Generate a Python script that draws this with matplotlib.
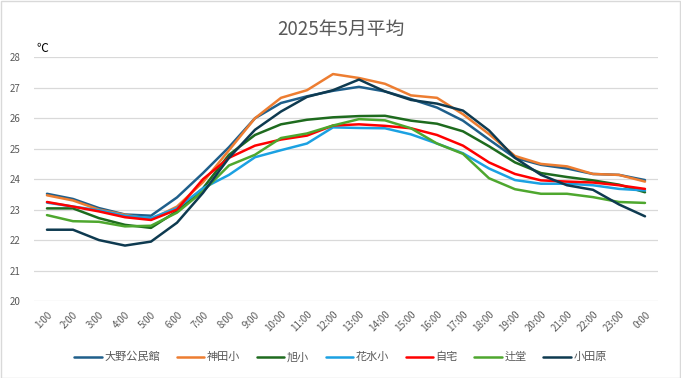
import matplotlib
matplotlib.use("Agg")
import matplotlib.pyplot as plt
from matplotlib.patches import Rectangle

plt.rcParams['font.family'] = ['Noto Sans CJK JP', 'DejaVu Sans']

hours = ["1:00", "2:00", "3:00", "4:00", "5:00", "6:00", "7:00", "8:00", "9:00", "10:00",
         "11:00", "12:00", "13:00", "14:00", "15:00", "16:00", "17:00", "18:00", "19:00",
         "20:00", "21:00", "22:00", "23:00", "0:00"]

series_names = ["大野公民館", "神田小", "旭小", "花水小", "自宅", "辻堂", "小田原"]

ono = [23.52, 23.35, 23.05, 22.84, 22.8, 23.4, 24.2, 25.05, 26.0, 26.5, 26.72, 26.9,
       27.03, 26.88, 26.63, 26.35, 25.92, 25.3, 24.7, 24.47, 24.35, 24.17, 24.14, 23.97]
kanda = [23.47, 23.3, 23.0, 22.83, 22.68, 23.1, 23.9, 24.95, 26.0, 26.67, 26.92, 27.45,
         27.32, 27.13, 26.75, 26.67, 26.13, 25.48, 24.76, 24.5, 24.42, 24.17, 24.14, 23.92]
asahi = [23.04, 23.04, 22.72, 22.5, 22.4, 22.95, 23.7, 24.8, 25.45, 25.8, 25.95, 26.03,
         26.07, 26.08, 25.92, 25.82, 25.57, 25.08, 24.55, 24.2, 24.07, 23.96, 23.82, 23.57]
hanamizu = [23.23, 23.1, 22.98, 22.8, 22.72, 23.05, 23.7, 24.14, 24.72, 24.95, 25.17, 25.7,
            25.68, 25.67, 25.47, 25.17, 24.85, 24.35, 23.97, 23.85, 23.85, 23.8, 23.68, 23.63]
jitaku = [23.25, 23.1, 22.94, 22.75, 22.66, 23.0, 24.0, 24.7, 25.1, 25.3, 25.43, 25.76,
          25.8, 25.75, 25.67, 25.45, 25.1, 24.55, 24.17, 23.96, 23.92, 23.89, 23.8, 23.68]
tsujido = [22.82, 22.62, 22.6, 22.45, 22.47, 22.9, 23.6, 24.45, 24.8, 25.35, 25.5, 25.76,
           25.97, 25.93, 25.67, 25.17, 24.83, 24.03, 23.67, 23.52, 23.52, 23.41, 23.25, 23.22]
odawara = [22.34, 22.34, 22.0, 21.82, 21.95, 22.57, 23.55, 24.7, 25.62, 26.22, 26.7, 26.92,
           27.27, 26.88, 26.6, 26.48, 26.25, 25.6, 24.7, 24.14, 23.8, 23.65, 23.17, 22.78]

y_ticks = [20, 21, 22, 23, 24, 25, 26, 27, 28]

all_series = [ono, kanda, asahi, hanamizu, jitaku, tsujido, odawara]
colors = ["#1F5F8B", "#ED7D31", "#1E6B1E", "#1BA1E2", "#FF0000", "#4EA72E", "#0E3A50"]

fig = plt.figure(figsize=(6.81, 3.78), dpi=100)
ax = fig.add_axes([0.0499, 0.2037, 0.9163, 0.6447])

x = list(range(len(hours)))
for name, vals, c in zip(series_names, all_series, colors):
    ax.plot(x, vals, color=c, linewidth=1.8, label=name, solid_capstyle='round')

ax.set_xlim(-0.5, len(hours) - 0.5)
ax.set_ylim(20, 28)
ax.set_yticks(y_ticks)
ax.set_yticklabels([str(t) for t in y_ticks])
ax.set_xticks(x)
ax.set_xticklabels(hours, rotation=45, ha='right', rotation_mode='anchor')
ax.tick_params(axis='both', length=0, labelsize=7, colors='#595959')
ax.tick_params(axis='x', pad=6)
ax.tick_params(axis='y', pad=10)
ax.grid(axis='y', color='#D9D9D9', linewidth=0.9)
ax.set_axisbelow(True)
for s in ax.spines.values():
    s.set_visible(False)

fig.text(0.5, 0.922, "2025年5月平均", ha='center', va='center', fontsize=13.5, color='#595959')
fig.text(0.054, 0.872, "℃", ha='left', va='center', fontsize=8.5, color='black')

fig.legend(loc='center', bbox_to_anchor=(0.5, 0.055), ncol=7, frameon=False,
           fontsize=8, handlelength=2.5, columnspacing=1.5, handletextpad=0.2,
           labelcolor='#595959')

fig.patches.append(Rectangle((0.001, 0.001), 0.997, 0.997, transform=fig.transFigure,
                             fill=False, edgecolor='#D9D9D9', linewidth=1))

fig.savefig("out.png", dpi=100)
